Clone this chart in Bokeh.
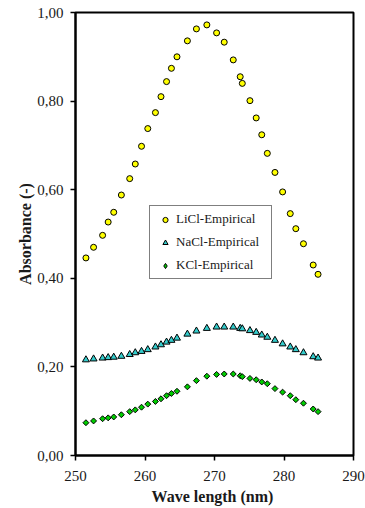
import math
from bokeh.plotting import figure
from bokeh.models import Range1d, FixedTicker, CustomJSTickFormatter, Legend, LegendItem
from bokeh.embed import file_html
from bokeh.resources import INLINE

wavelength = [251.5, 252.6, 253.9, 254.7, 255.5, 256.6, 257.8, 258.6, 259.5, 260.4,
              261.5, 262.3, 263.1, 263.8, 264.6, 266.1, 267.4, 268.9, 270.3, 271.4,
              272.7, 273.7, 274.0, 275.1, 276.0, 276.8, 277.6, 278.7, 279.8, 280.9,
              281.7, 282.8, 284.2, 284.9]
licl = [0.446, 0.470, 0.497, 0.527, 0.549, 0.588, 0.625, 0.658, 0.698, 0.738,
        0.774, 0.810, 0.844, 0.874, 0.900, 0.936, 0.963, 0.972, 0.954, 0.933,
        0.893, 0.855, 0.840, 0.801, 0.762, 0.724, 0.682, 0.639, 0.595, 0.546,
        0.512, 0.478, 0.430, 0.409]
nacl = [0.216, 0.218, 0.220, 0.221, 0.222, 0.224, 0.228, 0.232, 0.235, 0.239,
        0.245, 0.250, 0.256, 0.260, 0.265, 0.274, 0.281, 0.287, 0.290, 0.290,
        0.290, 0.287, 0.286, 0.282, 0.278, 0.272, 0.267, 0.260, 0.252, 0.245,
        0.239, 0.232, 0.223, 0.220]
kcl = [0.074, 0.078, 0.083, 0.085, 0.087, 0.092, 0.099, 0.103, 0.109, 0.116,
       0.122, 0.128, 0.135, 0.140, 0.145, 0.155, 0.169, 0.179, 0.183, 0.184,
       0.184, 0.180, 0.178, 0.174, 0.171, 0.166, 0.162, 0.151, 0.143, 0.135,
       0.126, 0.118, 0.105, 0.099]
series_names = ["LiCl-Empirical", "NaCl-Empirical", "KCl-Empirical"]
x_ticks = [250, 260, 270, 280, 290]
y_ticks = [0.0, 0.2, 0.4, 0.6, 0.8, 1.0]

FONT = "Liberation Serif"

p = figure(width=365, height=508, output_backend="svg", toolbar_location=None,
           x_range=Range1d(250, 290), y_range=Range1d(0, 1),
           min_border_left=75, min_border_right=12, min_border_top=12, min_border_bottom=53)
p.grid.visible = False
p.outline_line_color = "black"
p.outline_line_width = 2
p.background_fill_color = "white"
p.border_fill_color = "white"

for ax in (p.xaxis[0], p.yaxis[0]):
    ax.axis_line_color = "black"
    ax.axis_line_width = 2
    ax.major_tick_line_color = "black"
    ax.major_tick_line_width = 1.5
    ax.major_tick_out = 5
    ax.major_tick_in = 0
    ax.minor_tick_line_color = None
    ax.major_label_text_font = FONT
    ax.major_label_text_font_size = "15px"
    ax.major_label_text_color = "#1a1a1a"
    ax.axis_label_text_font = FONT
    ax.axis_label_text_font_size = "16px"
    ax.axis_label_text_font_style = "bold"
    ax.axis_label_text_color = "#1a1a1a"

p.xaxis.ticker = FixedTicker(ticks=x_ticks)
p.yaxis.ticker = FixedTicker(ticks=y_ticks)
p.yaxis.formatter = CustomJSTickFormatter(code="return tick.toFixed(2).replace('.', ',');")
p.xaxis.axis_label = "Wave length  (nm)"
p.yaxis.axis_label = "Absorbance (-)"
p.xaxis.major_label_standoff = 10
p.yaxis.major_label_standoff = 7
p.xaxis.axis_label_standoff = 4
p.yaxis.axis_label_standoff = 0

r1 = p.scatter(wavelength, licl, marker="circle", size=6, fill_color="#FFFF00",
               line_color="black", line_width=1)
r2 = p.scatter(wavelength, nacl, marker="triangle", size=7, fill_color="#33CCCC",
               line_color="black", line_width=1)
r3 = p.scatter(wavelength, kcl, marker="square", angle=math.pi / 4, size=4.2,
               fill_color="#00CC00", line_color="black", line_width=1)
# renderer with a single undrawable (NaN) point, only used for the legend symbol
r3_key = p.scatter(x=[float("nan")], y=[float("nan")], marker="diamond", size=7,
                   fill_color="#00CC00", line_color="black", line_width=1)

legend = Legend(items=[LegendItem(label=series_names[0], renderers=[r1]),
                       LegendItem(label=series_names[1], renderers=[r2]),
                       LegendItem(label=series_names[2], renderers=[r3_key])],
                location=(74, 176), padding=4, spacing=5, glyph_width=22,
                glyph_height=13, label_height=18, label_width=91, label_standoff=0,
                margin=0)
legend.border_line_color = "black"
legend.border_line_width = 1.5
legend.background_fill_color = "white"
legend.background_fill_alpha = 1
legend.label_text_font = FONT
legend.label_text_font_size = "13px"
legend.label_text_color = "#1a1a1a"
p.add_layout(legend)

open("out.html", "w").write(file_html(p, INLINE))
